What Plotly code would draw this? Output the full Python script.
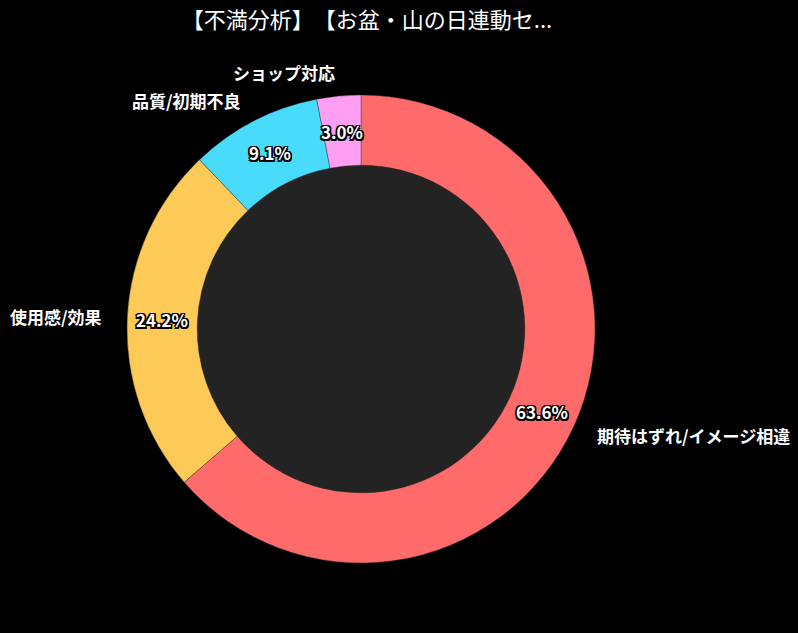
import numpy as np
import plotly.graph_objects as go

# 不満の内訳（件数）
labels = ["期待はずれ/イメージ相違", "使用感/効果", "品質/初期不良", "ショップ対応"]
counts = [21, 8, 3, 1]
colors = ["#FF6B6B", "#FECA57", "#48DBFB", "#FF9FF3"]
title_text = "【不満分析】【お盆・山の日連動セ..."

W, H = 798, 633
cx, cy, R = 361, 329, 234  # pie centre / radius in px
hole = 0.7
font_jp = "Noto Sans CJK JP, DejaVu Sans, sans-serif"

fig = go.Figure()
fig.add_trace(go.Pie(
    labels=labels,
    values=counts,
    sort=False,
    direction="clockwise",
    rotation=0,
    hole=hole,
    marker=dict(colors=colors, line=dict(color="#333333", width=0.4)),
    textinfo="none",
    hoverinfo="label+percent+value",
    showlegend=False,
    domain=dict(x=[(cx - R) / W, (cx + R) / W], y=[(H - cy - R) / H, (H - cy + R) / H]),
))

# labels outside and percents inside, placed at slice mid angles
total = sum(counts)
cum = np.cumsum([0] + counts)
outline = ("-1.5px -1.5px 0 #000, 1.5px -1.5px 0 #000, -1.5px 1.5px 0 #000, 1.5px 1.5px 0 #000, "
           "0 -1.5px 0 #000, 0 1.5px 0 #000, -1.5px 0 0 #000, 1.5px 0 0 #000")
annotations = []
for i, lab in enumerate(labels):
    mid = (cum[i] + counts[i] / 2) / total * 2 * np.pi
    sx, sy = np.sin(mid), np.cos(mid)
    lx = cx + 1.1 * R * sx
    ly = cy - 1.1 * R * sy
    annotations.append(dict(
        x=lx / W, y=1 - ly / H, xref="paper", yref="paper",
        text=f"<b>{lab}</b>", showarrow=False,
        xanchor="left" if sx > 0 else "right", yanchor="middle",
        font=dict(family=font_jp, size=17, color="white"),
    ))
    px = cx + 0.85 * R * sx
    py = cy - 0.85 * R * sy
    annotations.append(dict(
        x=px / W, y=1 - py / H, xref="paper", yref="paper",
        text=f"<b>{counts[i] / total * 100:.1f}%</b>", showarrow=False,
        xanchor="center", yanchor="middle",
        font=dict(family=font_jp, size=17, color="white", shadow=outline),
    ))

fig.update_layout(
    width=W, height=H,
    paper_bgcolor="black",
    plot_bgcolor="black",
    margin=dict(l=0, r=0, t=0, b=0),
    title=dict(text=title_text, x=367 / W, xanchor="center", y=1 - 20 / H, yanchor="middle",
               font=dict(family=font_jp, size=22, color="white")),
    annotations=annotations,
    shapes=[dict(
        type="circle", xref="paper", yref="paper", layer="below",
        x0=(cx - hole * R) / W, x1=(cx + hole * R) / W,
        y0=1 - (cy + hole * R) / H, y1=1 - (cy - hole * R) / H,
        fillcolor="#232323", line=dict(width=0),
    )],
)

fig.write_html(
    "out.html",
    config={"displayModeBar": False},
    post_script="document.body.style.margin='0';"
                "document.documentElement.style.textSpacingTrim='space-all';"
                "document.body.style.background='black';",
)
